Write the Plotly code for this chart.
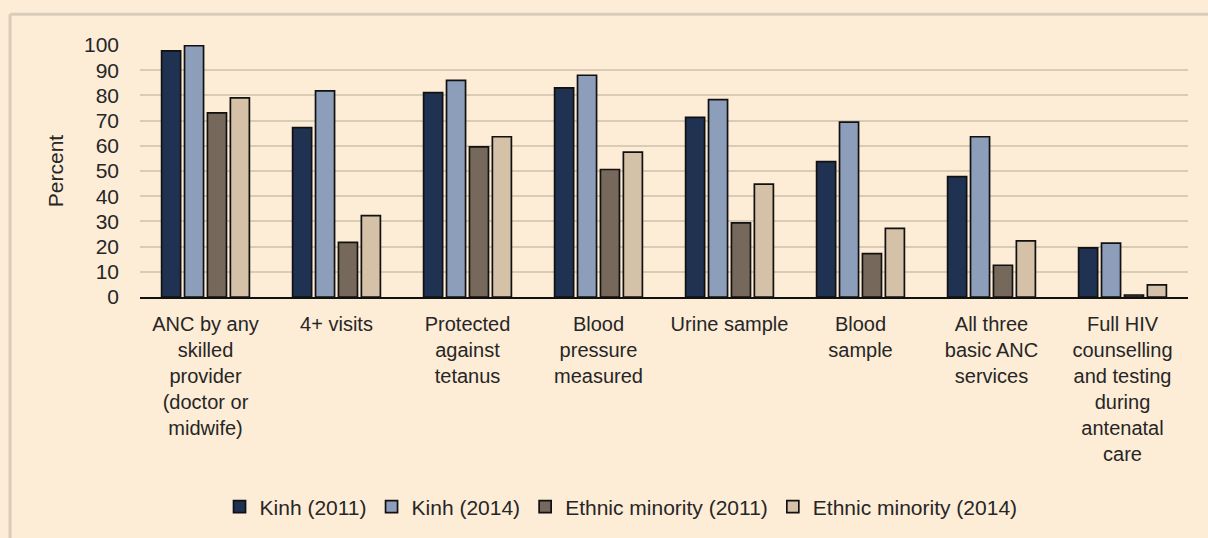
import plotly.graph_objects as go

# Antenatal care indicators by ethnicity and survey year
categories = [
    "ANC by any<br>skilled<br>provider<br>(doctor or<br>midwife)",
    "4+ visits",
    "Protected<br>against<br>tetanus",
    "Blood<br>pressure<br>measured",
    "Urine sample",
    "Blood<br>sample",
    "All three<br>basic ANC<br>services",
    "Full HIV<br>counselling<br>and testing<br>during<br>antenatal<br>care",
]

kinh_2011 = [97.7, 67.2, 81.1, 83.0, 71.3, 53.7, 47.8, 19.5]
kinh_2014 = [99.7, 81.8, 86.0, 88.0, 78.3, 69.4, 63.6, 21.4]
ethnic_2011 = [73.1, 21.7, 59.6, 50.6, 29.4, 17.2, 12.6, 0.8]
ethnic_2014 = [79.0, 32.3, 63.6, 57.5, 44.8, 27.2, 22.3, 4.8]

series_names = ["Kinh (2011)", "Kinh (2014)", "Ethnic minority (2011)", "Ethnic minority (2014)"]
series_values = [kinh_2011, kinh_2014, ethnic_2011, ethnic_2014]
series_colors = ["#1f3252", "#8d9ebb", "#76685a", "#d4c1a8"]

y_ticks = list(range(0, 101, 10))

BG = "#fdecd6"
TEXT = "#262626"
FONT = "Liberation Sans, Arial, sans-serif"

fig = go.Figure()
for name, vals, col in zip(series_names, series_values, series_colors):
    fig.add_trace(go.Bar(
        x=categories,
        y=vals,
        name=name,
        marker=dict(color=col, line=dict(color="#111111", width=1.7)),
    ))

fig.update_layout(
    width=1208,
    height=538,
    margin=dict(l=140, r=20, t=45, b=240, pad=0),
    paper_bgcolor=BG,
    plot_bgcolor=BG,
    font=dict(family=FONT, size=20, color=TEXT),
    barmode="group",
    bargap=0.3,
    bargroupgap=0.17,
    showlegend=True,
    legend=dict(
        orientation="h",
        x=0.459,
        xanchor="center",
        y=-0.826,
        yanchor="middle",
        font=dict(family=FONT, size=21, color=TEXT),
        itemwidth=30,
        bgcolor="rgba(0,0,0,0)",
        traceorder="normal",
    ),
    xaxis=dict(
        showline=True,
        linecolor="#111111",
        linewidth=2,
        showgrid=False,
        ticks="",
        tickangle=0,
        ticklabelstandoff=8,
        tickfont=dict(family=FONT, size=20, color=TEXT),
    ),
    yaxis=dict(
        range=[0, 100],
        tickvals=y_ticks,
        showgrid=True,
        gridcolor="#d9ccb6",
        gridwidth=2,
        zeroline=False,
        showline=False,
        ticks="",
        ticklabelstandoff=20,
        tickfont=dict(family=FONT, size=21, color=TEXT),
        title=dict(text="Percent", font=dict(family=FONT, size=21, color=TEXT), standoff=14),
    ),
    shapes=[
        # outer chart frame (top and left edges visible)
        dict(type="line", xref="paper", yref="paper",
             x0=-0.124, x1=1.1, y0=1.122, y1=1.122,
             line=dict(color="#d8ccba", width=3)),
        dict(type="line", xref="paper", yref="paper",
             x0=-0.124, x1=-0.124, y0=1.122, y1=-1.0,
             line=dict(color="#d8ccba", width=3)),
    ],
)

fig.write_html("out.html")
